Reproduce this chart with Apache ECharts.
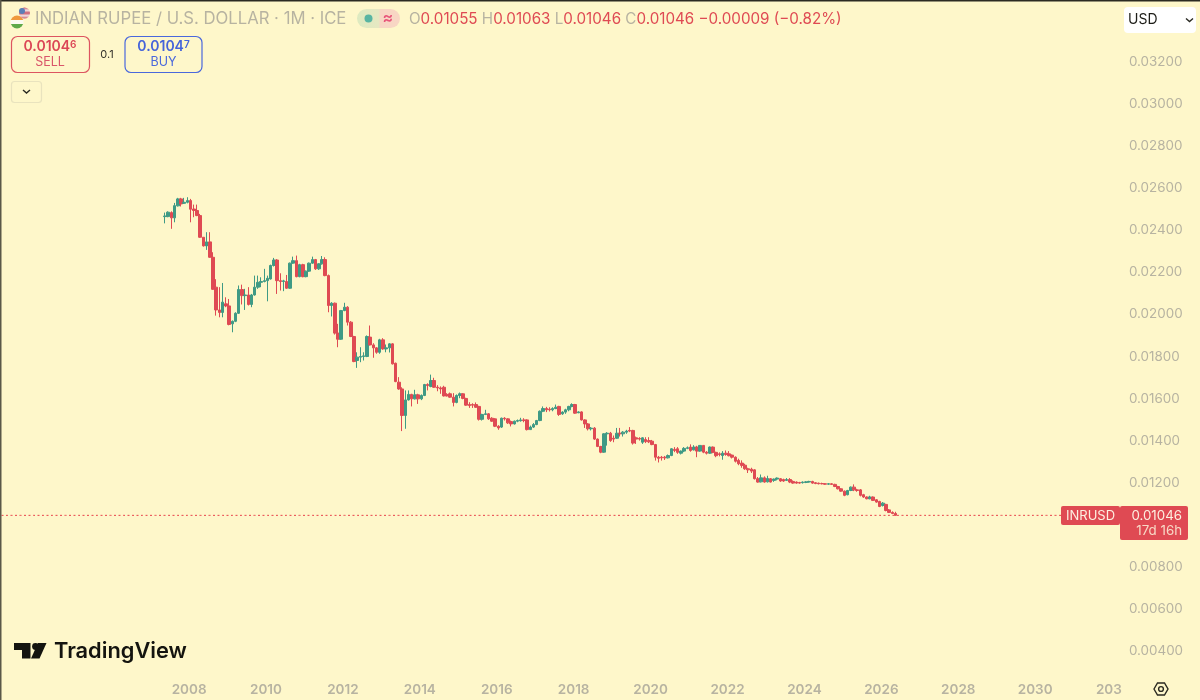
<!DOCTYPE html>
<html><head><meta charset="utf-8">
<style>html,body{margin:0;padding:0;background:#FEF7CA}#c{width:1200px;height:700px}</style>
<script src="https://cdn.jsdelivr.net/npm/echarts@6/dist/echarts.min.js"></script>
</head><body><div id="c"></div>
<script>
const firstMonth = [2007, 5];
const opens = [0.02464,0.02464,0.02483,0.02458,0.02515,0.02548,0.02527,0.02532,0.02540,0.02500,0.02493,0.02469,0.02366,0.02325,0.02344,0.02271,0.02129,0.02021,0.02009,0.02050,0.02040,0.01955,0.01967,0.02005,0.02118,0.02089,0.02092,0.02047,0.02092,0.02129,0.02152,0.02156,0.02160,0.02168,0.02232,0.02258,0.02160,0.02156,0.02156,0.02124,0.02243,0.02255,0.02179,0.02236,0.02179,0.02205,0.02243,0.02260,0.02216,0.02240,0.02260,
0.02184,0.02042,0.02053,0.01911,0.01882,0.02018,0.02034,0.01963,0.01895,0.01781,0.01797,0.01800,0.01800,0.01892,0.01855,0.01841,0.01820,0.01879,0.01836,0.01841,0.01860,0.01768,0.01678,0.01646,0.01520,0.01594,0.01620,0.01599,0.01618,0.01599,0.01615,0.01667,0.01658,0.01686,0.01654,0.01651,0.01654,0.01620,0.01623,0.01607,0.01582,0.01615,0.01623,0.01601,0.01572,0.01572,0.01572,0.01563,0.01502,0.01525,0.01528,0.01507,0.01504,0.01469,0.01465,
0.01507,0.01504,0.01491,0.01480,0.01493,0.01495,0.01499,0.01499,0.01453,0.01465,0.01477,0.01496,0.01540,0.01553,0.01550,0.01547,0.01553,0.01563,0.01528,0.01536,0.01547,0.01563,0.01572,0.01533,0.01537,0.01499,0.01480,0.01457,0.01460,0.01408,0.01373,0.01346,0.01433,0.01436,0.01412,0.01412,0.01436,0.01433,0.01441,0.01449,0.01449,0.01414,0.01411,0.01393,0.01406,0.01401,0.01398,0.01382,0.01322,0.01322,0.01322,0.01319,0.01330,0.01359,
0.01362,0.01341,0.01351,0.01364,0.01370,0.01357,0.01370,0.01351,0.01378,0.01346,0.01341,0.01370,0.01345,0.01338,0.01330,0.01341,0.01338,0.01332,0.01322,0.01307,0.01294,0.01284,0.01267,0.01265,0.01262,0.01220,0.01205,0.01224,0.01205,0.01220,0.01212,0.01218,0.01220,0.01216,0.01212,0.01216,0.01207,0.01204,0.01202,0.01201,0.01202,0.01204,0.01207,0.01201,0.01199,0.01197,0.01196,0.01194,0.01196,0.01193,0.01183,0.01172,0.01161,0.01144,0.01164,0.01180,0.01167,0.01167,0.01144,0.01133,0.01125,0.01133,0.01120,0.01112,0.01093,0.01098,0.01072,0.01060,0.01055];
const closes = [0.02467,0.02485,0.02458,0.02516,0.02548,0.02524,0.02532,0.02540,0.02499,0.02493,0.02469,0.02366,0.02325,0.02344,0.02271,0.02119,0.02021,0.02009,0.02058,0.02040,0.01952,0.01967,0.02005,0.02118,0.02089,0.02092,0.02047,0.02092,0.02129,0.02152,0.02156,0.02160,0.02171,0.02232,0.02258,0.02160,0.02156,0.02159,0.02124,0.02243,0.02255,0.02179,0.02236,0.02179,0.02205,0.02243,0.02260,0.02216,0.02240,0.02260,0.02184,
0.02042,0.02053,0.01911,0.01882,0.02018,0.02034,0.01963,0.01895,0.01776,0.01797,0.01800,0.01803,0.01895,0.01855,0.01841,0.01820,0.01879,0.01836,0.01841,0.01860,0.01765,0.01681,0.01646,0.01520,0.01594,0.01620,0.01599,0.01618,0.01599,0.01615,0.01667,0.01662,0.01686,0.01654,0.01651,0.01646,0.01613,0.01613,0.01607,0.01582,0.01615,0.01623,0.01601,0.01569,0.01567,0.01569,0.01559,0.01502,0.01525,0.01528,0.01504,0.01493,0.01469,0.01461,0.01507,
0.01504,0.01485,0.01480,0.01493,0.01496,0.01499,0.01496,0.01453,0.01465,0.01477,0.01496,0.01540,0.01553,0.01547,0.01547,0.01553,0.01559,0.01525,0.01536,0.01547,0.01563,0.01572,0.01531,0.01537,0.01499,0.01480,0.01457,0.01460,0.01408,0.01373,0.01346,0.01433,0.01436,0.01401,0.01408,0.01436,0.01433,0.01441,0.01446,0.01446,0.01389,0.01408,0.01408,0.01414,0.01396,0.01395,0.01382,0.01322,0.01317,0.01319,0.01319,0.01330,0.01362,0.01354,
0.01345,0.01351,0.01364,0.01367,0.01354,0.01370,0.01351,0.01378,0.01346,0.01341,0.01370,0.01345,0.01329,0.01335,0.01341,0.01335,0.01329,0.01322,0.01303,0.01291,0.01283,0.01267,0.01262,0.01256,0.01220,0.01204,0.01224,0.01204,0.01221,0.01204,0.01218,0.01223,0.01209,0.01209,0.01216,0.01204,0.01199,0.01199,0.01199,0.01204,0.01205,0.01207,0.01199,0.01197,0.01196,0.01196,0.01194,0.01196,0.01193,0.01183,0.01172,0.01161,0.01141,0.01164,0.01180,0.01167,0.01164,0.01141,0.01133,0.01125,0.01133,0.01117,0.01109,0.01088,0.01104,0.01069,0.01060,0.01055,0.01046];
const lows = [0.02432,0.02461,0.02406,0.02437,0.02512,0.02512,0.02524,0.02527,0.02437,0.02461,0.02466,0.02363,0.02322,0.02306,0.02268,0.02116,0.01994,0.01986,0.01986,0.02034,0.01948,0.01915,0.01963,0.02002,0.02047,0.02021,0.02042,0.02034,0.02089,0.02121,0.02129,0.02152,0.02062,0.02165,0.02227,0.02097,0.02113,0.02110,0.02121,0.02121,0.02240,0.02176,0.02176,0.02176,0.02176,0.02202,0.02240,0.02211,0.02211,0.02236,0.02181,
0.02010,0.01990,0.01904,0.01844,0.01879,0.02015,0.01947,0.01892,0.01773,0.01746,0.01773,0.01781,0.01797,0.01852,0.01794,0.01813,0.01813,0.01832,0.01820,0.01819,0.01762,0.01678,0.01642,0.01446,0.01457,0.01591,0.01563,0.01596,0.01575,0.01593,0.01612,0.01639,0.01654,0.01651,0.01635,0.01623,0.01610,0.01610,0.01604,0.01563,0.01578,0.01602,0.01597,0.01566,0.01556,0.01556,0.01556,0.01496,0.01496,0.01522,0.01499,0.01490,0.01465,0.01452,0.01461,
0.01496,0.01480,0.01468,0.01477,0.01488,0.01491,0.01488,0.01449,0.01452,0.01461,0.01474,0.01493,0.01536,0.01536,0.01539,0.01540,0.01550,0.01518,0.01523,0.01528,0.01540,0.01559,0.01528,0.01531,0.01496,0.01461,0.01449,0.01449,0.01404,0.01370,0.01341,0.01343,0.01377,0.01395,0.01393,0.01409,0.01420,0.01420,0.01433,0.01441,0.01382,0.01385,0.01401,0.01385,0.01389,0.01389,0.01379,0.01306,0.01297,0.01306,0.01309,0.01316,0.01327,0.01346,
0.01338,0.01335,0.01346,0.01360,0.01348,0.01354,0.01322,0.01348,0.01341,0.01335,0.01338,0.01341,0.01322,0.01326,0.01310,0.01329,0.01326,0.01316,0.01297,0.01284,0.01272,0.01262,0.01247,0.01247,0.01216,0.01201,0.01202,0.01201,0.01202,0.01202,0.01205,0.01212,0.01205,0.01205,0.01209,0.01199,0.01196,0.01196,0.01196,0.01197,0.01199,0.01201,0.01196,0.01194,0.01193,0.01193,0.01191,0.01191,0.01190,0.01180,0.01169,0.01158,0.01137,0.01141,0.01161,0.01161,0.01158,0.01136,0.01129,0.01122,0.01122,0.01114,0.01106,0.01085,0.01088,0.01065,0.01057,0.01052,0.01046];
const highs = [0.02483,0.02489,0.02489,0.02529,0.02553,0.02553,0.02553,0.02556,0.02548,0.02521,0.02521,0.02477,0.02366,0.02390,0.02390,0.02295,0.02167,0.02129,0.02149,0.02081,0.02073,0.01971,0.02010,0.02137,0.02141,0.02121,0.02129,0.02097,0.02184,0.02184,0.02176,0.02216,0.02184,0.02236,0.02268,0.02262,0.02195,0.02164,0.02187,0.02246,0.02274,0.02279,0.02240,0.02240,0.02208,0.02246,0.02274,0.02263,0.02243,0.02277,0.02271,
0.02189,0.02058,0.02056,0.01955,0.02021,0.02055,0.02039,0.01968,0.01898,0.01820,0.01844,0.01820,0.01900,0.01947,0.01863,0.01844,0.01884,0.01887,0.01857,0.01863,0.01863,0.01771,0.01702,0.01654,0.01639,0.01639,0.01623,0.01642,0.01623,0.01620,0.01670,0.01673,0.01714,0.01699,0.01664,0.01658,0.01661,0.01626,0.01629,0.01626,0.01620,0.01629,0.01626,0.01604,0.01583,0.01578,0.01582,0.01566,0.01528,0.01547,0.01531,0.01512,0.01507,0.01474,0.01510,
0.01512,0.01507,0.01496,0.01496,0.01501,0.01509,0.01507,0.01502,0.01472,0.01484,0.01499,0.01544,0.01563,0.01561,0.01559,0.01559,0.01572,0.01566,0.01540,0.01552,0.01566,0.01578,0.01575,0.01540,0.01540,0.01502,0.01484,0.01465,0.01465,0.01411,0.01376,0.01436,0.01441,0.01442,0.01425,0.01461,0.01461,0.01446,0.01452,0.01465,0.01452,0.01420,0.01417,0.01417,0.01417,0.01417,0.01404,0.01385,0.01328,0.01328,0.01328,0.01335,0.01365,0.01370,
0.01370,0.01354,0.01370,0.01373,0.01383,0.01379,0.01376,0.01379,0.01379,0.01351,0.01373,0.01373,0.01348,0.01345,0.01351,0.01354,0.01351,0.01335,0.01326,0.01315,0.01307,0.01291,0.01272,0.01272,0.01265,0.01228,0.01240,0.01231,0.01234,0.01223,0.01221,0.01226,0.01223,0.01220,0.01223,0.01223,0.01212,0.01207,0.01205,0.01207,0.01209,0.01210,0.01210,0.01204,0.01201,0.01201,0.01199,0.01199,0.01199,0.01196,0.01186,0.01175,0.01164,0.01167,0.01183,0.01193,0.01172,0.01171,0.01148,0.01136,0.01139,0.01136,0.01123,0.01115,0.01109,0.01101,0.01076,0.01065,0.01063];
const yTicks = [0.004,0.006,0.008,0.010,0.012,0.014,0.016,0.018,0.020,0.022,0.024,0.026,0.028,0.030,0.032];
const xTickMonths = ['2008-01','2010-01','2012-01','2014-01','2016-01','2018-01','2020-01','2022-01','2024-01','2026-01','2028-01','2030-01','2031-12'];
const xTickLabels = ['2008','2010','2012','2014','2016','2018','2020','2022','2024','2026','2028','2030','203'];
const lastPrice = 0.01046;

const RED='#DF4A53', GREEN='#3F9A85', GREY='#B7B3A1', BG='#FEF7CA';
const months=[]; for(let y=2003,m=2;months.length<350;){months.push(y+'-'+String(m).padStart(2,'0')); m++; if(m>12){m=1;y++;}}
const startKey=firstMonth[0]+'-'+String(firstMonth[1]).padStart(2,'0');
const startIdx=months.indexOf(startKey);
const candle=months.map((k,i)=>{const j=i-startIdx; return (j>=0&&j<opens.length)?[opens[j],closes[j],lows[j],highs[j]]:['-','-','-','-'];});
const FONT='Inter';
const txt=(x,y,text,fill,size,weight,align)=>({type:'text',x,y,z:100,silent:true,style:{text,fill,font:(weight||400)+' '+size+'px '+FONT,align:align||'left',verticalAlign:'middle'}});
const rect=(x,y,w,h,r,fill,stroke,lw)=>({type:'rect',z:99,shape:{x,y,width:w,height:h,r},silent:true,style:{fill:fill||'transparent',stroke:stroke||null,lineWidth:lw||1}});
const graphic=[
 rect(0,0,1200,1.5,0,'#2b2b22'), rect(0,0,1.5,700,0,'#5a5848'),
 {type:'circle',shape:{cx:24.5,cy:13,r:5.5},silent:true,style:{fill:{type:'linear',x:0,y:0,x2:0,y2:1,colorStops:[{offset:0,color:'#C9566A'},{offset:.25,color:'#F2E4E2'},{offset:.5,color:'#C9566A'},{offset:.75,color:'#F2E4E2'},{offset:1,color:'#C9566A'}]}}},
 {type:'circle',shape:{cx:22,cy:11,r:3},silent:true,style:{fill:'#5A7FB8'}},
 {type:'circle',shape:{cx:17,cy:22,r:6.5},silent:true,style:{fill:{type:'linear',x:0,y:0,x2:0,y2:1,colorStops:[{offset:0,color:'#F0993D'},{offset:.33,color:'#F0993D'},{offset:.34,color:'#FBFAF0'},{offset:.66,color:'#FBFAF0'},{offset:.67,color:'#5FA948'},{offset:1,color:'#5FA948'}]}}},
 txt(35,19,'INDIAN RUPEE / U.S. DOLLAR · 1M · ICE',GREY,16.7,400),
 {type:'rect',shape:{x:357,y:9,width:43,height:19,r:9.5},silent:true,style:{fill:{type:'linear',x:0,y:0,x2:1,y2:0,colorStops:[{offset:0,color:'#DDEAC0'},{offset:.5,color:'#E6E8C2'},{offset:.55,color:'#F8D6C4'},{offset:1,color:'#F8D6C4'}]}}},
 {type:'circle',shape:{cx:368.5,cy:18.5,r:4},silent:true,style:{fill:'#58B5A2'}},
 txt(388,18,'≈','#E8557A',16,600,'center'),
 {type:'text',x:409,y:19,silent:true,style:{rich:{g:{fill:GREY,font:'400 15.2px '+FONT},r:{fill:RED,font:'400 15.2px '+FONT}},text:'{g|O}{r|0.01055 }{g|H}{r|0.01063 }{g|L}{r|0.01046 }{g|C}{r|0.01046 −0.00009 (−0.82%)}',verticalAlign:'middle'}},
 rect(11.5,36.5,78,36,6,null,'#DD5560',1.2),
 {type:'text',x:50,y:47,silent:true,style:{rich:{a:{fill:'#DB4655',font:'600 14px '+FONT},b:{fill:'#DB4655',font:'600 10px '+FONT,verticalAlign:'top',padding:[0,0,5,0]}},text:'{a|0.0104}{b|6}',align:'center',verticalAlign:'middle'}},
 txt(50,62,'SELL','#D9566A',12.5,400,'center'),
 txt(107,54.5,'0.1','#33322a',11,400,'center'),
 rect(125,36.5,77,36,6,null,'#4A68DC',1.2),
 {type:'text',x:163.5,y:47,silent:true,style:{rich:{a:{fill:'#4564DA',font:'600 14px '+FONT},b:{fill:'#4564DA',font:'600 10px '+FONT,verticalAlign:'top',padding:[0,0,5,0]}},text:'{a|0.0104}{b|7}',align:'center',verticalAlign:'middle'}},
 txt(163.5,62,'BUY','#4A68DC',12.5,400,'center'),
 rect(11.5,81.5,30,21,3,null,'#E9E3BE',1.2),
 {type:'polyline',shape:{points:[[23,90],[26.5,93],[30,90]]},silent:true,style:{stroke:'#2a2a22',lineWidth:1.4,fill:null}},
 rect(1124,7,72,26,4,'#FFFFFF'),
 txt(1128,20,'USD','#1d1d18',14,400),
 {type:'polyline',shape:{points:[[1186,18.5],[1189.5,21.5],[1193,18.5]]},z:100,silent:true,style:{stroke:'#2a2a22',lineWidth:1.4,fill:null}},
 rect(1061,506,59,19,2,RED),
 txt(1090.5,516,'INRUSD','#FDEFE0',13,400,'center'),
 rect(1120,506,68,34,2,RED),
 txt(1182,515.5,'0.01046','#FDEFE0',13.3,400,'right'),
 txt(1182,531,'17d 16h','#F8D9C6',13.3,400,'right'),
 {type:'polygon',shape:{points:[[14,643],[30.5,643],[30.5,658.5],[22,658.5],[22,650],[14,650]]},silent:true,style:{fill:'#14140f'}},
 {type:'circle',shape:{cx:35.5,cy:646.5,r:3.4},silent:true,style:{fill:'#14140f'}},
 {type:'polygon',shape:{points:[[38,643],[46.5,643],[39.5,658.5],[31,658.5]]},silent:true,style:{fill:'#14140f'}},
 txt(54,651.5,'TradingView','#14140f',21.8,600),
 {type:'polygon',shape:{points:[[1154,689],[1157.5,683],[1164.5,683],[1168,689],[1164.5,695],[1157.5,695]]},silent:true,style:{fill:null,stroke:'#2b2a20',lineWidth:1.4}},
 {type:'circle',shape:{cx:1161,cy:689,r:2.4},silent:true,style:{fill:null,stroke:'#2b2a20',lineWidth:1.4}}
];
const chart=echarts.init(document.getElementById('c'),null,{renderer:'canvas'});
chart.setOption({
 animation:false, backgroundColor:BG, textStyle:{fontFamily:FONT},
 grid:{left:1.5,width:1118.5,top:19.4,height:674.2,containLabel:false},
 xAxis:{type:'category',data:months,boundaryGap:false,
  axisLine:{show:false},axisTick:{show:false},splitLine:{show:false},
  axisLabel:{inside:true,margin:-3.5,color:GREY,fontSize:13.5,fontWeight:600,fontFamily:FONT,hideOverlap:false,padding:[0,3,0,0],
   interval:(i,v)=>xTickMonths.includes(v),
   formatter:v=>{const i=xTickMonths.indexOf(v);return i>=0?xTickLabels[i]:'';}}},
 yAxis:{type:'value',position:'right',min:0.002,max:0.034,interval:0.002,scale:false,
  axisLine:{show:false},axisTick:{show:false},splitLine:{show:false},
  axisLabel:{margin:9,color:GREY,fontSize:13.4,fontFamily:FONT,
   formatter:v=>yTicks.some(t=>Math.abs(t-v)<1e-6)?v.toFixed(5):''}},
 series:[
  {type:'line',data:months.map(()=>lastPrice),showSymbol:false,silent:true,z:1,
   lineStyle:{color:'#E8404A',type:[2,2.5],width:1},itemStyle:{color:'#E8404A'}},
  {type:'candlestick',data:candle,barWidth:3,z:2,
   itemStyle:{color:GREEN,color0:RED,borderColor:GREEN,borderColor0:RED,borderWidth:1}}
 ],
 graphic:{elements:graphic}
});
</script></body></html>
